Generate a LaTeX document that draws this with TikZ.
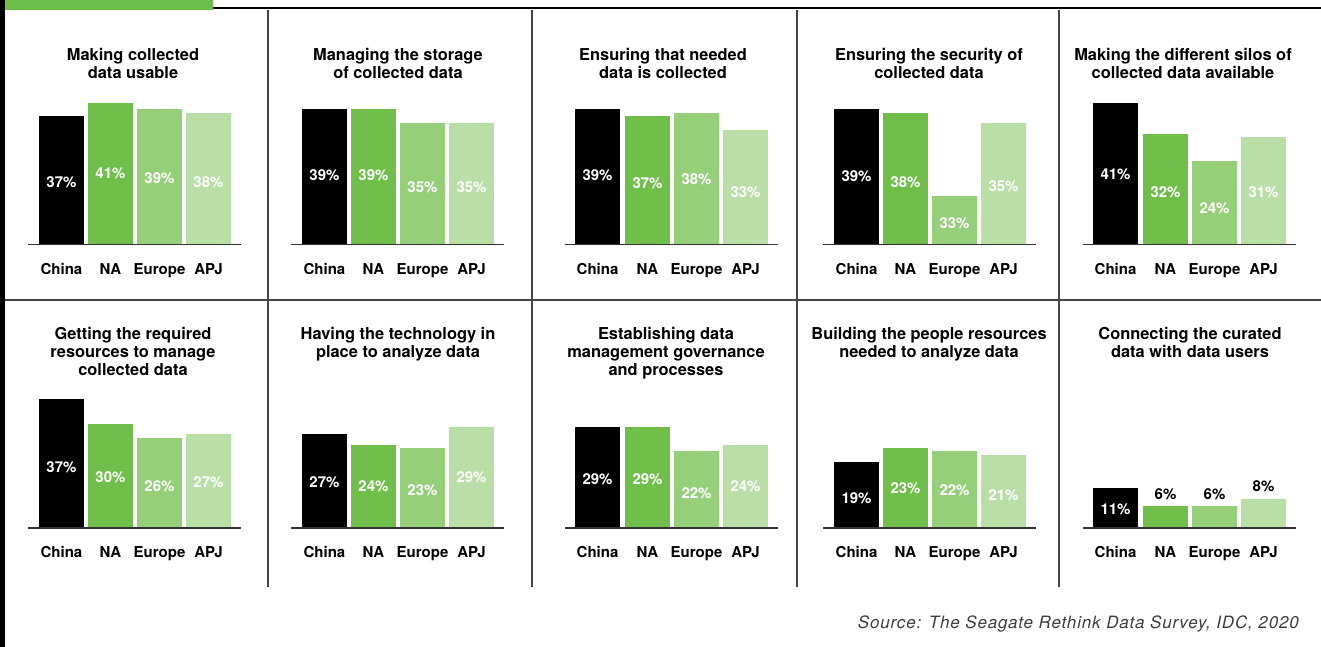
\documentclass[tikz,border=0pt]{standalone}
\usepackage{fontspec}
\setmainfont{TeX Gyre Heros}
\definecolor{cA}{HTML}{000000}
\definecolor{cB}{HTML}{70BF4A}
\definecolor{cC}{HTML}{96CF79}
\definecolor{cD}{HTML}{B9DFA6}
\definecolor{topgreen}{HTML}{6DBE4B}
\definecolor{divgray}{HTML}{444444}
\definecolor{axgray}{HTML}{333333}
\definecolor{srcgray}{HTML}{3C3C3C}
\newcommand\catname[1]{\ifcase#1\or China\or NA\or Europe\or APJ\fi}
\newcommand\barpanel[4]{%
  \foreach \x/\t/\ly/\c/\tc/\v [count=\i] in {#4}{%
    \fill[fill=\c] (\x,\t) rectangle ({\x+45},#2);
    \node[pct,text=\tc] (#1v\i) at ({\x+22.5},\ly) {\v\%};
    \node[cat] (#1c\i) at ({\x+22.5},#2+29.5) {\catname{\i}};
  }
  \draw[axis] (#3,#2) -- ({#3+213},#2);
}
\begin{document}
\begin{tikzpicture}[x=1pt,y=-1pt,
  title/.style={font=\fontsize{16.4}{18}\selectfont\bfseries, align=center, anchor=north, inner sep=0},
  cat/.style={font=\fontsize{15}{18}\selectfont\bfseries, anchor=base, inner sep=0},
  pct/.style={font=\fontsize{15}{18}\selectfont\bfseries, inner sep=0},
  divider/.style={draw=divgray, line width=1.3pt},
  axis/.style={draw=axgray, line width=1.3pt}]
\useasboundingbox (0,0) rectangle (1321,647);
% frame elements
\fill[black] (0,0) rectangle (5,647);
\fill[topgreen] (5,0) rectangle (213,10.5);
\draw[black, line width=1.5pt] (213,8) -- (1321,8);
\foreach \dx in {268,532,797,1059}{\draw[divider] (\dx,10) -- (\dx,587);}
\draw[divider] (5,300) -- (1321,300);
% titles
\node[title] (t1) at (133,48) {Making collected\\data usable};
\node[title] (t2) at (398,48) {Managing the storage\\of collected data};
\node[title] (t3) at (663,48) {Ensuring that needed\\data is collected};
\node[title] (t4) at (929,48) {Ensuring the security of\\collected data};
\node[title] (t5) at (1183,48) {Making the different silos of\\collected data available};
\node[title] (t6) at (133,327) {Getting the required\\resources to manage\\collected data};
\node[title] (t7) at (398,327) {Having the technology in\\place to analyze data};
\node[title] (t8) at (666,327) {Establishing data\\management governance\\and processes};
\node[title] (t9) at (929,327) {Building the people resources\\needed to analyze data};
\node[title] (t10) at (1190,327) {Connecting the curated\\data with data users};
% panels
\barpanel{pa}{244.5}{28}{39/116/182/cA/white/37, 88/103/173/cB/white/41, 137/109/178/cC/white/39, 186/113/182/cD/white/38}
\barpanel{pb}{244.5}{291}{302/109/175/cA/white/39, 351/109/175/cB/white/39, 400/123/187/cC/white/35, 449/123/187/cD/white/35}
\barpanel{pc}{244.5}{565}{575/109/175/cA/white/39, 625/116/183/cB/white/37, 674/113/179/cC/white/38, 723/130/192/cD/white/33}
\barpanel{pd}{244.5}{823}{834/109/176/cA/white/39, 883/113/182/cB/white/38, 932/196/223/cC/white/33, 981/123/186/cD/white/35}
\barpanel{pe}{244.5}{1083}{1093/103/174/cA/white/41, 1143/134/192/cB/white/32, 1192/161/208/cC/white/24, 1241/137/192/cD/white/31}
\barpanel{pf}{528}{28}{39/399/467/cA/white/37, 88/424/477/cB/white/30, 137/438/486/cC/white/26, 186/434/482/cD/white/27}
\barpanel{pg}{528}{291}{302/434/482/cA/white/27, 351/445/486/cB/white/24, 400/448/490/cC/white/23, 449/427/477/cD/white/29}
\barpanel{ph}{528}{565}{575/427/479/cA/white/29, 625/427/479/cB/white/29, 674/451/493/cC/white/22, 723/445/486/cD/white/24}
\barpanel{pi}{528}{823}{834/462/498/cA/white/19, 883/448/488/cB/white/23, 932/451/490/cC/white/22, 981/455/495/cD/white/21}
\barpanel{pj}{528}{1083}{1093/488/509/cA/white/11, 1143/506/494/cB/black/6, 1192/506/494/cC/black/6, 1241/499/486/cD/black/8}
% source
\node[font=\fontsize{17}{18}\selectfont\itshape\addfontfeatures{LetterSpace=5}, anchor=base east, text=srcgray, inner sep=0] (src) at (1299,628) {Source: The Seagate Rethink Data Survey, IDC, 2020};
\end{tikzpicture}
\end{document}
